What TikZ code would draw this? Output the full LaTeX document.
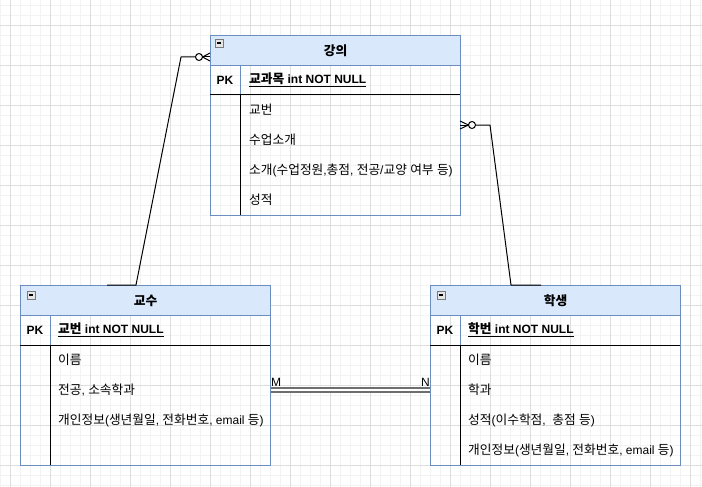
\documentclass[tikz,border=0pt]{standalone}
\usepackage{fontspec}
\setmainfont{Liberation Sans}
\newfontfamily\krfont[Scale=1.06]{Noto Sans CJK KR}
\newcommand\kr[1]{{\krfont #1}}
\usetikzlibrary{calc}
\definecolor{hdrfill}{HTML}{DAE8FC}
\definecolor{hdrline}{HTML}{6C8EBF}
\definecolor{gridminor}{HTML}{F3F3F3}
\definecolor{gridmajor}{HTML}{DEDEDE}
\definecolor{linkgray}{HTML}{6E6E6E}
\definecolor{iconline}{HTML}{7A7A7A}
\definecolor{iconfill}{HTML}{E6E6E6}
\newcommand\erfont{\fontsize{12}{14}\selectfont}
\tikzset{
  tbox/.style={draw=hdrline, line width=1pt, minimum width=250, minimum height=180, inner sep=0, anchor=north west},
  thead/.style={draw=hdrline, fill=hdrfill, line width=1pt, minimum width=250, minimum height=30, inner sep=0, anchor=north west, font=\erfont\bfseries},
  pkcell/.style={font=\erfont\bfseries, inner sep=0},
  fld/.style={anchor=west, inner sep=0, font=\erfont},
  keyfld/.style={anchor=west, inner sep=0, font=\erfont\bfseries},
  pkdiv/.style={draw=hdrline, line width=1pt},
  rowsep/.style={draw=black, line width=1pt},
  conn/.style={draw=black, line width=1pt, line join=round},
  link/.style={draw=linkgray, line width=1.4pt, double=white, double distance=2.8pt},
  lbl/.style={inner sep=0, font=\erfont},
  minusbox/.pic={
    \draw[draw=iconline, fill=iconfill, line width=0.8pt] (0,0) rectangle (8,8);
    \draw[line width=1.2pt] (2,4) -- (6,4);
  },
}
\begin{document}
\begin{tikzpicture}[x=1pt,y=-1pt]
  \useasboundingbox (0,0) rectangle (702,487);
  % background grid
  \foreach \gx in {0,10,...,700} \draw[gridminor] (\gx,0) -- (\gx,487);
  \foreach \gy in {5,15,...,485} \draw[gridminor] (0,\gy) -- (702,\gy);
  \foreach \gx in {10,50,...,690} \draw[gridmajor] (\gx,0) -- (\gx,487);
  \foreach \gy in {25,65,...,465} \draw[gridmajor] (0,\gy) -- (702,\gy);

  % lecture table
  \node[tbox] (lec) at (210,35) {};
  \node[thead] (lech) at (210,35) {\kr{강의}};
  \pic at (215,39) {minusbox};
  \draw[pkdiv] (240,65) -- (240,95);
  \draw[rowsep] (210,95) -- (460,95);
  \draw[rowsep] (240,95) -- (240,215);
  \node[pkcell] (lecpk) at (225,80) {PK};
  \node[keyfld] (leckey) at (249,80) {\underline{\kr{교과목} int NOT NULL}};
  \node[fld] (lecr1) at (249,110) {\kr{교번}};
  \node[fld] (lecr2) at (249,140) {\kr{수업소개}};
  \node[fld] (lecr3) at (249,170) {\kr{소개}(\kr{수업정원},\kr{총점}, \kr{전공}/\kr{교양} \kr{여부} \kr{등})};
  \node[fld] (lecr4) at (249,200) {\kr{성적}};

  % professor table
  \node[tbox] (prof) at (20,285) {};
  \node[thead] (profh) at (20,285) {\kr{교수}};
  \pic at (27,291) {minusbox};
  \draw[pkdiv] (50,315) -- (50,345);
  \draw[rowsep] (20,345) -- (270,345);
  \draw[rowsep] (50,345) -- (50,465);
  \node[pkcell] (profpk) at (35,330) {PK};
  \node[keyfld] (profkey) at (58,330) {\underline{\kr{교번} int NOT NULL}};
  \node[fld] (profr1) at (58,360) {\kr{이름}};
  \node[fld] (profr2) at (58,390) {\kr{전공}, \kr{소속학과}};
  \node[fld] (profr3) at (58,420) {\kr{개인정보}(\kr{생년월일}, \kr{전화번호}, email \kr{등})};

  % student table
  \node[tbox] (stud) at (430,285) {};
  \node[thead] (studh) at (430,285) {\kr{학생}};
  \pic at (437,291) {minusbox};
  \draw[pkdiv] (460,315) -- (460,345);
  \draw[rowsep] (430,345) -- (680,345);
  \draw[rowsep] (460,345) -- (460,465);
  \node[pkcell] (studpk) at (445,330) {PK};
  \node[keyfld] (studkey) at (468,330) {\underline{\kr{학번} int NOT NULL}};
  \node[fld] (studr1) at (468,360) {\kr{이름}};
  \node[fld] (studr2) at (468,390) {\kr{학과}};
  \node[fld] (studr3) at (468,420) {\kr{성적}(\kr{이수학점},\ \ \kr{총점} \kr{등})};
  \node[fld] (studr4) at (468,450) {\kr{개인정보}(\kr{생년월일}, \kr{전화번호}, email \kr{등})};

  % professor -- lecture (zero to many)
  \coordinate (profTop) at (107,285);
  \coordinate (profBend) at (136,285);
  \coordinate (lecBendL) at (181,57);
  \coordinate (lecEndL) at (210,57);
  \draw[conn] (profTop) -- (profBend) -- (lecBendL) -- ($(lecEndL)+(-14.5,0)$);
  \draw[conn] ($(lecEndL)+(-11,0)$) circle[radius=3.5];
  \draw[conn] ($(lecEndL)+(0,-4)$) -- ($(lecEndL)+(-7.5,0)$) -- ($(lecEndL)+(0,4)$);
  \draw[conn] ($(lecEndL)+(-7.5,0)$) -- (lecEndL);

  % student -- lecture (zero to many)
  \coordinate (studTop) at (541,285);
  \coordinate (studBend) at (511,285);
  \coordinate (lecBendR) at (490,125);
  \coordinate (lecEndR) at (460,125);
  \draw[conn] (studTop) -- (studBend) -- (lecBendR) -- ($(lecEndR)+(15.5,0)$);
  \draw[conn] ($(lecEndR)+(12,0)$) circle[radius=3.5];
  \draw[conn] ($(lecEndR)+(0,-4)$) -- ($(lecEndR)+(8.5,0)$) -- ($(lecEndR)+(0,4)$);
  \draw[conn] ($(lecEndR)+(8.5,0)$) -- (lecEndR);

  % professor -- student (M:N)
  \draw[link] (prof.east |- profr2) -- (stud.west |- profr2);
  \node[lbl, anchor=base west] (mlab) at (271,386) {M};
  \node[lbl, anchor=base east] (nlab) at (430,386) {N};
\end{tikzpicture}
\end{document}
